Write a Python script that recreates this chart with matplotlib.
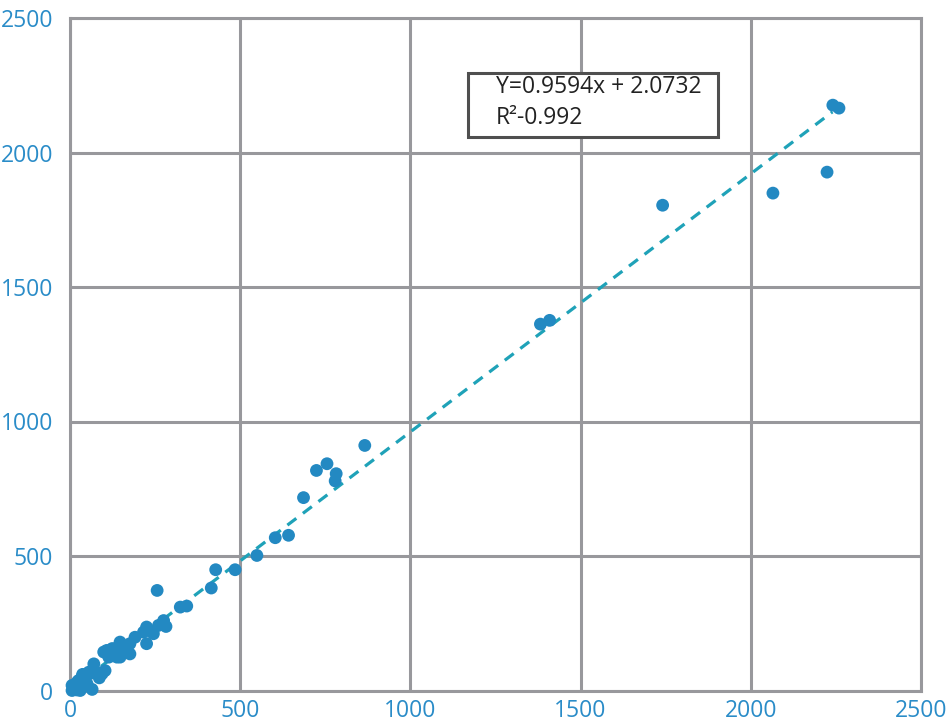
import matplotlib
matplotlib.use("Agg")
import matplotlib.pyplot as plt
from matplotlib.patches import Rectangle
import numpy as np

# Measured vs. predicted values
x_vals = [2241, 2259, 2224, 2065, 1741, 1409, 1382,
          866, 755, 724, 782, 779, 686, 642, 603, 549, 485, 428, 415, 256,
          324, 343, 275, 282, 260, 225, 216, 245, 225, 191, 176, 147, 132,
          108, 162, 123, 147, 176, 124, 114, 138, 99,
          70, 79, 55, 35, 21, 6, 6, 30, 65, 50, 94, 103, 86, 57, 37, 25, 20, 44]
y_vals = [2176, 2165, 1927, 1849, 1804, 1376, 1362,
          911, 843, 818, 806, 779, 717, 577, 568, 502, 449, 449, 381, 372,
          310, 314, 260, 238, 242, 236, 217, 211, 174, 198, 174, 180, 155,
          149, 149, 130, 124, 136, 156, 124, 124, 143,
          99, 68, 68, 50, 31, 19, 0, 0, 4, 25, 62, 74, 47, 62, 60, 37, 2, 19]

slope = 0.9594
intercept = 2.0732
r_squared = 0.992
fit_range = [0, 2240]

ticks = [0, 500, 1000, 1500, 2000, 2500]

plt.rcParams['font.family'] = ['Open Sans', 'DejaVu Sans']

fig = plt.figure(figsize=(9.48, 7.26), dpi=100)
ax = fig.add_axes([70 / 948, 1 - 690.5 / 726, 851 / 948, 672.5 / 726])

grid_color = '#98989c'
ax.set_xlim(0, 2500)
ax.set_ylim(0, 2500)
ax.set_xticks(ticks)
ax.set_yticks(ticks)
ax.grid(True, color=grid_color, linewidth=2.2, zorder=0)
for sp in ax.spines.values():
    sp.set_color(grid_color)
    sp.set_linewidth(2.2)
ax.tick_params(length=0, labelsize=16.5, labelcolor='#2a8cc8')
ax.tick_params(axis='x', pad=6)
ax.tick_params(axis='y', pad=12)

fx = np.array(fit_range, dtype=float)
ax.plot(fx, slope * fx + intercept, linestyle=(0, (3.5, 2.6)), color='#1fa2b8',
        linewidth=2.3, zorder=2)

ax.scatter(x_vals, y_vals, s=85, color='#2389c2', edgecolors='none', zorder=3,
           clip_on=False)

# Equation box
ax.add_patch(Rectangle((1168, 2057), 735, 238, facecolor='white',
                       edgecolor='#4f4f4f', linewidth=2.2, zorder=4))
ax.text(1250, 2242, f"Y={slope}x + {intercept}", fontsize=16.5, color='#222222',
        va='center', ha='left', zorder=5)
ax.text(1250, 2130, f"R\u00b2-{r_squared}", fontsize=16.5, color='#222222',
        va='center', ha='left', zorder=5)

fig.savefig("out.png", dpi=100)
